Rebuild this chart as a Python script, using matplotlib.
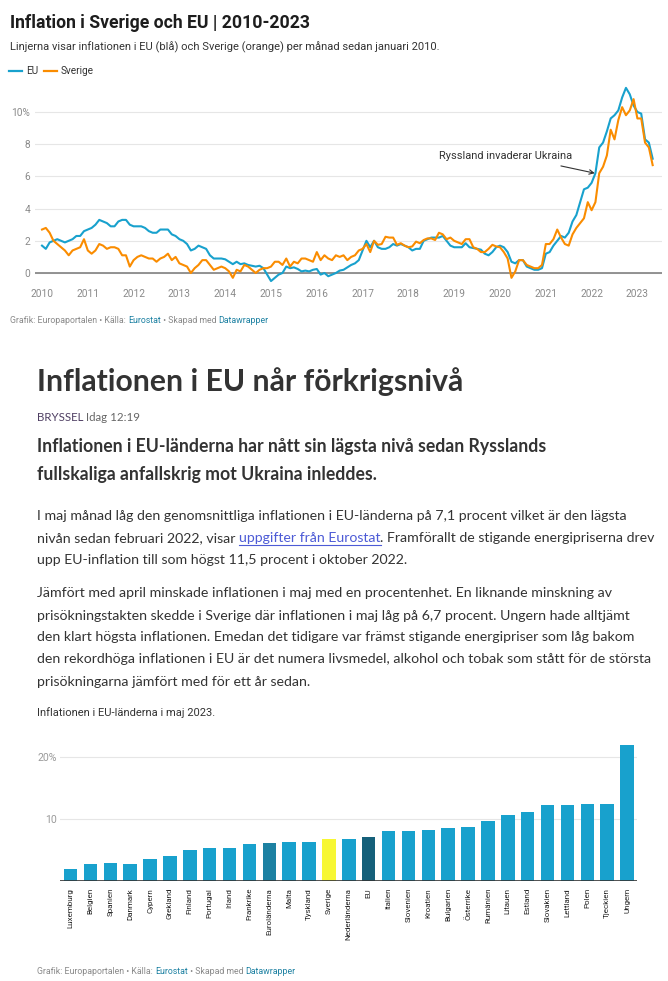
import matplotlib
matplotlib.use('Agg')
import matplotlib.pyplot as plt
from matplotlib import font_manager as fm
from matplotlib.lines import Line2D

# ----------------------------------------------------------------------------------------
# Data: monthly HICP inflation (%), January 2010 - May 2023.
# ----------------------------------------------------------------------------------------

eu = [
    1.7, 1.5, 1.9, 2.0, 2.1, 2.0, 1.9, 2.0, 2.1, 2.3, 2.3, 2.6,
    2.7, 2.8, 3.0, 3.3, 3.2, 3.1, 2.9, 2.9, 3.2, 3.3, 3.3, 3.0,
    2.9, 2.9, 2.9, 2.8, 2.6, 2.5, 2.5, 2.7, 2.7, 2.7, 2.4, 2.3,
    2.1, 2.0, 1.8, 1.4, 1.5, 1.7, 1.6, 1.5, 1.1, 0.9, 0.9, 0.9,
    0.85, 0.7, 0.55, 0.7, 0.55, 0.6, 0.5, 0.45, 0.4, 0.45, 0.3, -0.1,
    -0.5, -0.3, -0.1, 0.0, 0.4, 0.3, 0.35, 0.25, 0.1, 0.15, 0.1, 0.2,
    0.25, -0.1, 0.0, -0.2, -0.1, 0.0, 0.15, 0.2, 0.35, 0.5, 0.6, 0.8,
    1.4, 2.0, 1.6, 2.0, 1.6, 1.5, 1.5, 1.6, 1.8, 1.7, 1.8, 1.7,
    1.6, 1.4, 1.5, 1.5, 2.0, 2.1, 2.2, 2.2, 2.2, 2.3, 2.0, 1.7,
    1.6, 1.6, 1.6, 1.85, 1.6, 1.55, 1.5, 1.45, 1.2, 1.1, 1.3, 1.6,
    1.7, 1.6, 1.3, 0.7, 0.6, 0.8, 0.8, 0.4, 0.3, 0.2, 0.2, 0.3,
    1.2, 1.3, 1.7, 2.0, 2.3, 2.2, 2.5, 3.2, 3.6, 4.4, 5.2, 5.3,
    5.6, 6.2, 7.8, 8.1, 8.8, 9.6, 9.8, 10.1, 10.9, 11.5, 11.1, 10.4,
    10.0, 9.9, 8.3, 8.1, 7.1,
]

sverige = [
    2.7, 2.8, 2.5, 2.0, 1.8, 1.6, 1.4, 1.1, 1.4, 1.5, 1.6, 2.1,
    1.4, 1.2, 1.4, 1.8, 1.7, 1.5, 1.6, 1.6, 1.5, 1.1, 1.1, 0.4,
    0.8, 1.0, 1.1, 1.0, 0.9, 0.9, 0.7, 0.9, 1.0, 1.2, 0.8, 1.0,
    0.6, 0.5, 0.4, 0.0, 0.3, 0.5, 0.8, 0.8, 0.5, 0.2, 0.3, 0.4,
    0.3, 0.1, -0.3, 0.2, 0.1, 0.5, 0.4, 0.2, 0.0, 0.2, 0.3, 0.3,
    0.4, 0.7, 0.7, 0.5, 0.9, 0.4, 0.7, 0.6, 0.9, 0.9, 0.8, 0.7,
    1.3, 0.8, 1.1, 0.9, 0.8, 1.1, 1.0, 1.1, 0.8, 1.0, 1.1, 1.4,
    1.5, 1.8, 1.3, 2.0, 1.75, 1.8, 2.25, 2.2, 2.2, 1.75, 1.85, 1.7,
    1.6, 1.65, 1.95, 1.85, 2.05, 2.15, 2.15, 2.05, 2.5, 2.4, 2.1, 2.2,
    2.0, 1.9, 1.8, 2.1, 2.1, 1.6, 1.5, 1.3, 1.3, 1.5, 1.75, 1.65,
    1.6, 1.3, 0.9, -0.3, 0.1, 0.8, 0.8, 0.5, 0.4, 0.3, 0.3, 0.5,
    1.8, 1.8, 2.1, 2.7, 2.2, 1.8, 1.7, 2.4, 2.8, 3.1, 3.4, 4.4,
    3.9, 4.4, 6.2, 6.6, 7.3, 8.9, 8.3, 9.5, 10.3, 9.8, 10.1, 10.8,
    9.6, 9.6, 8.1, 7.8, 6.7,
]

months = [2010 + i / 12 for i in range(len(eu))]
year_ticks = list(range(2010, 2024))
line_yticks = [0, 2, 4, 6, 8, 10]
line_ylabels = ['0', '2', '4', '6', '8', '10%']

annot_text = 'Ryssland invaderar Ukraina'
annot_head = (2022.07, 6.2)
annot_tail = (2021.33, 6.65)
annot_label = (2020.13, 7.27)

# Inflation in the EU countries, May 2023.
countries = [
    'Luxemburg', 'Belgien', 'Spanien', 'Danmark', 'Cypern', 'Grekland', 'Finland',
    'Portugal', 'Irland', 'Frankrike', 'Euroländerna', 'Malta', 'Tyskland', 'Sverige',
    'Nederländerna', 'EU', 'Italien', 'Slovenien', 'Kroatien', 'Bulgarien', 'Österrike',
    'Rumänien', 'Litauen', 'Estland', 'Slovakien', 'Lettland', 'Polen', 'Tjeckien', 'Ungern',
]
rates = [
    2.0, 2.7, 2.9, 2.8, 3.6, 4.1, 5.0, 5.4, 5.4, 6.0, 6.1, 6.3, 6.3, 6.7,
    6.8, 7.1, 8.0, 8.1, 8.3, 8.6, 8.7, 9.6, 10.7, 11.2, 12.3, 12.3, 12.5, 12.5, 21.9,
]
bar_yticks = [10, 20]
bar_ylabels = ['10', '20%']

# ----------------------------------------------------------------------------------------
# Styles.
# ----------------------------------------------------------------------------------------

BLUE = '#18a1cd'
ORANGE = '#fa8c00'
LINK = '#1d81a2'
highlight = {'Euroländerna': '#1d81a2', 'EU': '#15607a', 'Sverige': '#f7f733'}
bar_colors = [highlight.get(c, BLUE) for c in countries]


def pick(*names):
    for n in names:
        try:
            fm.findfont(fm.FontProperties(family=n), fallback_to_default=False)
            return n
        except ValueError:
            continue
    return 'DejaVu Sans'


CHART = pick('Roboto', 'Liberation Sans')
BODY = pick('Lato', 'Open Sans', 'Noto Sans')
plt.rcParams['font.family'] = [CHART, 'DejaVu Sans']

W, H = 668, 981
fig = plt.figure(figsize=(W / 100, H / 100), dpi=100)
fig.patch.set_facecolor('white')
renderer = fig.canvas.get_renderer()


def fx(x):
    return x / W


def fy(y):
    return 1 - y / H


def width(s, **kw):
    t = fig.text(0, 0, s, **kw)
    w = t.get_window_extent(renderer).width
    t.remove()
    return w


def fit(lines, target, size, **kw):
    # font size that makes the lines as wide as in the reference
    got = sum(width(s, size=size, **kw) for s in lines)
    return size * target / got


def runs(x, y, parts, **kw):
    done = ''
    for part in parts:
        s, color = part[0], part[1]
        off = width(done + 'x', **kw) - width('x', **kw) if done else 0
        fig.text(fx(x + off), fy(y), s, color=color, va='baseline', **kw)
        if len(part) > 2:
            w = width(s, **kw)
            fig.add_artist(Line2D([fx(x + off), fx(x + off + w)], [fy(y + 2.5)] * 2,
                                  lw=0.8, color=color))
        done += s


# ----------------------------------------------------------------------------------------
# Line chart: Sweden vs EU.
# ----------------------------------------------------------------------------------------

title = 'Inflation i Sverige och EU | 2010-2023'
size = fit([title], 299, 13, family=CHART, weight='bold')
fig.text(fx(10), fy(27.5), title, size=size, family=CHART, weight='bold',
         color='#1d1d1d', va='baseline')

subtitle = 'Linjerna visar inflationen i EU (blå) och Sverige (orange) per månad sedan januari 2010.'
size = fit([subtitle], 431, 8, family=CHART)
fig.text(fx(10), fy(50), subtitle, size=size, family=CHART, color='#333333', va='baseline')

fig.add_artist(Line2D([fx(9), fx(22)], [fy(71)] * 2, color=BLUE, lw=1.6))
fig.text(fx(26), fy(74.5), 'EU', size=7.2, family=CHART, color='#333333', va='baseline')
fig.add_artist(Line2D([fx(44), fx(57)], [fy(71)] * 2, color=ORANGE, lw=1.6))
fig.text(fx(61), fy(74.5), 'Sverige', size=7.2, family=CHART, color='#333333', va='baseline')

ax1 = fig.add_axes([fx(35), fy(286), fx(662) - fx(35), (286 - 86) / H])
ax1.plot(months, eu, color=BLUE, lw=1.5, solid_joinstyle='round')
ax1.plot(months, sverige, color=ORANGE, lw=1.5, solid_joinstyle='round')
ax1.set_xlim(2009.847, 2023.537)
ax1.set_ylim(-0.807, 11.615)
ax1.set_yticks(line_yticks, line_ylabels)
ax1.set_xticks(year_ticks, [str(y) for y in year_ticks])
ax1.tick_params(length=0, labelsize=7.3, labelcolor='#8a8a8a')
ax1.tick_params(axis='y', pad=3.6)
ax1.tick_params(axis='x', pad=2.5)
for s in ax1.spines.values():
    s.set_visible(False)
ax1.grid(axis='y', color='#e6e6e6', lw=0.8)
ax1.set_axisbelow(True)
ax1.axhline(0, color='#8a8a8a', lw=1.3, zorder=1)

size = fit([annot_text], 133, 8, family=CHART)
ax1.text(*annot_label, annot_text, size=size, family=CHART, color='#333333',
         ha='center', va='center')
ax1.annotate('', xy=annot_head, xytext=annot_tail,
             arrowprops=dict(arrowstyle='->', color='#333333', lw=0.8,
                             shrinkA=0, shrinkB=0, mutation_scale=8))

size = fit(['Grafik: Europaportalen • Källa: Eurostat • Skapad med Datawrapper'], 260, 7,
           family=CHART)
runs(10, 322.5, [('Grafik: Europaportalen • Källa: ', '#8a8a8a'), ('Eurostat', LINK),
                 (' • Skapad med ', '#8a8a8a'), ('Datawrapper', LINK)],
     size=size, family=CHART)

# ----------------------------------------------------------------------------------------
# Article text.
# ----------------------------------------------------------------------------------------

heading = 'Inflationen i EU når förkrigsnivå'
size = fit([heading], 426, 21, family=BODY, weight='bold')
fig.text(fx(37), fy(391), heading, size=size, family=BODY, weight='bold',
         color='#333333', va='baseline')

size = fit(['BRYSSEL Idag 12:19'], 103, 9, family=BODY)
runs(37, 420.5, [('BRYSSEL', '#4f3f63'), (' Idag 12:19', '#666666')], size=size, family=BODY)

lead = [
    'Inflationen i EU-länderna har nått sin lägsta nivå sedan Rysslands',
    'fullskaliga anfallskrig mot Ukraina inleddes.',
]
size = fit(lead, 504 + 340, 13, family=BODY, weight='bold')
for line, y in zip(lead, [452, 480]):
    fig.text(fx(37), fy(y), line, size=size, family=BODY, weight='bold',
             color='#333333', va='baseline')

p1 = [
    'I maj månad låg den genomsnittliga inflationen i EU-länderna på 7,1 procent vilket är den lägsta',
    'nivån sedan februari 2022, visar uppgifter från Eurostat. Framförallt de stigande energipriserna drev',
    'upp EU-inflation till som högst 11,5 procent i oktober 2022.',
]
p2 = [
    'Jämfört med april minskade inflationen i maj med en procentenhet. En liknande minskning av',
    'prisökningstakten skedde i Sverige där inflationen i maj låg på 6,7 procent. Ungern hade alltjämt',
    'den klart högsta inflationen. Emedan det tidigare var främst stigande energipriser som låg bakom',
    'den rekordhöga inflationen i EU är det numera livsmedel, alkohol och tobak som stått för de största',
    'prisökningarna jämfört med för ett år sedan.',
]
body = fit(p1 + p2, 599 + 615 + 350 + 591 + 597 + 607 + 615 + 263, 10, family=BODY)
dark = '#333333'
fig.text(fx(37), fy(520), p1[0], size=body, family=BODY, color=dark, va='baseline')
runs(37, 542, [('nivån sedan februari 2022, visar ', dark),
               ('uppgifter från Eurostat', '#4d5bd6', True),
               ('. Framförallt de stigande energipriserna drev', dark)],
     size=body, family=BODY)
fig.text(fx(37), fy(564.5), p1[2], size=body, family=BODY, color=dark, va='baseline')
for line, y in zip(p2, [597, 619.5, 641, 663, 685.5]):
    fig.text(fx(37), fy(y), line, size=body, family=BODY, color=dark, va='baseline')

# ----------------------------------------------------------------------------------------
# Bar chart: EU countries, May 2023.
# ----------------------------------------------------------------------------------------

caption = 'Inflationen i EU-länderna i maj 2023.'
size = fit([caption], 178, 8, family=CHART)
fig.text(fx(37), fy(716), caption, size=size, family=CHART, color='#333333', va='baseline')

ax2 = fig.add_axes([fx(60), fy(881), fx(637) - fx(60), (881 - 740) / H])
x = list(range(len(countries)))
ax2.bar(x, rates, width=0.68, color=bar_colors, zorder=2)
ax2.set_xlim(-0.53, 28.5)
ax2.set_ylim(0, (881 - 740) / 6.2)
ax2.set_yticks(bar_yticks, bar_ylabels)
ax2.set_xticks(x, countries, rotation=90)
ax2.tick_params(length=0)
ax2.tick_params(axis='y', pad=2.4, labelsize=7.6, labelcolor='#9a9a9a')
ax2.tick_params(axis='x', pad=5, labelsize=5.8, labelcolor='#222222')
for s in ax2.spines.values():
    s.set_visible(False)
ax2.grid(axis='y', color='#e6e6e6', lw=0.8)
ax2.set_axisbelow(True)
ax2.axhline(0, color='#333333', lw=1.2, zorder=3)

size = fit(['Grafik: Europaportalen • Källa: Eurostat • Skapad med Datawrapper'], 259, 7,
           family=CHART)
runs(37, 973.5, [('Grafik: Europaportalen • Källa: ', '#8a8a8a'), ('Eurostat', LINK),
                 (' • Skapad med ', '#8a8a8a'), ('Datawrapper', LINK)],
     size=size, family=CHART)

fig.savefig('out.png', dpi=100, facecolor='white')
